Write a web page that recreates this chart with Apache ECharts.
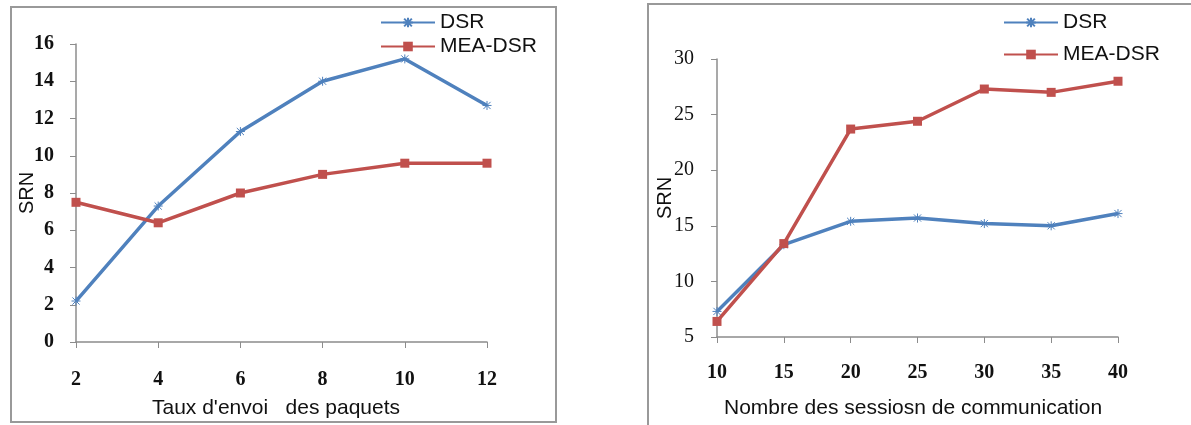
<!DOCTYPE html>
<html>
<head>
    <meta charset="UTF-8">
    <title>SRN</title>
    <style type="text/css">
        body { margin: 0; background: #fff; }
        #mychart { width: 1191px; height: 425px; }
    </style>
</head>
<body>
<div id="mychart"></div>
<script src="https://cdn.jsdelivr.net/npm/echarts@6/dist/echarts.min.js"></script>
<script>
    // chart 1 : SRN vs taux d'envoi
    var taux = [2, 4, 6, 8, 10, 12];
    var dsr1 = [2.2, 7.3, 11.3, 14.0, 15.2, 12.7];
    var mea1 = [7.5, 6.4, 8.0, 9.0, 9.6, 9.6];

    // chart 2 : SRN vs nombre de sessions
    var sessions = [10, 15, 20, 25, 30, 35, 40];
    var dsr2 = [7.3, 13.3, 15.4, 15.7, 15.2, 15.0, 16.1];
    var mea2 = [6.4, 13.4, 23.7, 24.4, 27.3, 27.0, 28.0];

    var blue = '#4F81BD';
    var red = '#C0504D';
    var axisGray = '#8c8c8c';
    var star = 'path://M0,-5L0,5M-5,0L5,0M-4,-4L4,4M-4,4L4,-4';

    function pairs(xs, ys) {
        var out = [];
        for (var i = 0; i < xs.length; i++) {
            out.push([xs[i], ys[i]]);
        }
        return out;
    }

    function xAxisCfg(idx, min, max, step, labelStyle) {
        return {
            gridIndex: idx, type: 'value', min: min, max: max, interval: step,
            axisLine: {lineStyle: {color: axisGray, width: 1.5}},
            axisTick: {inside: false, length: 6, lineStyle: {color: axisGray}},
            axisLabel: labelStyle,
            splitLine: {show: false}
        };
    }

    function yAxisCfg(idx, min, max, step, labelStyle, nameGap) {
        return {
            gridIndex: idx, type: 'value', min: min, max: max, interval: step,
            name: 'SRN', nameLocation: 'middle', nameGap: nameGap, nameRotate: 90,
            nameMoveOverlap: false,
            nameTextStyle: {fontFamily: 'Liberation Sans', fontSize: 20, color: '#111'},
            axisLine: {show: true, lineStyle: {color: axisGray, width: 1.5}},
            axisTick: {show: true, length: 6, lineStyle: {color: axisGray}},
            axisLabel: labelStyle,
            splitLine: {show: false}
        };
    }

    var legendText = {fontFamily: 'Liberation Sans', fontSize: 21, color: '#111'};
    var titleFont = {fontFamily: 'Liberation Sans', fontSize: 21, fill: '#111'};

    var myChart = echarts.init(document.getElementById('mychart'));

    var option = {
        animation: false,
        backgroundColor: '#fff',
        graphic: [
            {type: 'rect', shape: {x: 11, y: 7, width: 545, height: 415},
                style: {fill: 'none', stroke: '#999', lineWidth: 2}},
            {type: 'rect', shape: {x: 648, y: 4, width: 600, height: 450},
                style: {fill: 'none', stroke: '#999', lineWidth: 2}},
            {type: 'text', left: 152, top: 398,
                style: Object.assign({text: "Taux d'envoi   des paquets"}, titleFont)},
            {type: 'text', left: 724, top: 398,
                style: Object.assign({text: 'Nombre des sessiosn de communication'}, titleFont)}
        ],
        legend: [
            {
                left: 375, top: 7, orient: 'vertical', itemGap: 3, itemWidth: 54, itemHeight: 12,
                textStyle: legendText,
                data: ['DSR', 'MEA-DSR'],
                selectedMode: false
            },
            {
                left: 998, top: 7, orient: 'vertical', itemGap: 11, itemWidth: 54, itemHeight: 12,
                textStyle: legendText,
                data: ['DSR ', 'MEA-DSR '],
                selectedMode: false
            }
        ],
        grid: [
            {left: 76, top: 44, width: 411, height: 298},
            {left: 717, top: 59, width: 401, height: 278}
        ],
        xAxis: [
            xAxisCfg(0, 2, 12, 2, {fontFamily: 'Liberation Serif', fontWeight: 'bold', fontSize: 20, color: '#111', margin: 28}),
            xAxisCfg(1, 10, 40, 5, {fontFamily: 'Liberation Serif', fontWeight: 'bold', fontSize: 20, color: '#111', margin: 26})
        ],
        yAxis: [
            yAxisCfg(0, 0, 16, 2, {fontFamily: 'Liberation Serif', fontWeight: 'bold', fontSize: 20, color: '#111', margin: 22}, 39),
            yAxisCfg(1, 5, 30, 5, {fontFamily: 'Liberation Serif', fontSize: 20, color: '#111', margin: 23}, 42)
        ],
        series: [
            {
                name: 'DSR', type: 'line', xAxisIndex: 0, yAxisIndex: 0,
                data: pairs(taux, dsr1), color: blue,
                lineStyle: {width: 3.5}, symbol: star, symbolSize: 9,
                itemStyle: {color: blue, borderColor: blue, borderWidth: 1}
            },
            {
                name: 'MEA-DSR', type: 'line', xAxisIndex: 0, yAxisIndex: 0,
                data: pairs(taux, mea1), color: red,
                lineStyle: {width: 3.5}, symbol: 'rect', symbolSize: 9,
                itemStyle: {color: red}
            },
            {
                name: 'DSR ', type: 'line', xAxisIndex: 1, yAxisIndex: 1,
                data: pairs(sessions, dsr2), color: blue,
                lineStyle: {width: 3.5}, symbol: star, symbolSize: 9,
                itemStyle: {color: blue, borderColor: blue, borderWidth: 1}
            },
            {
                name: 'MEA-DSR ', type: 'line', xAxisIndex: 1, yAxisIndex: 1,
                data: pairs(sessions, mea2), color: red,
                lineStyle: {width: 3.5}, symbol: 'rect', symbolSize: 9,
                itemStyle: {color: red}
            }
        ]
    };

    myChart.setOption(option);
</script>
</body>
</html>
